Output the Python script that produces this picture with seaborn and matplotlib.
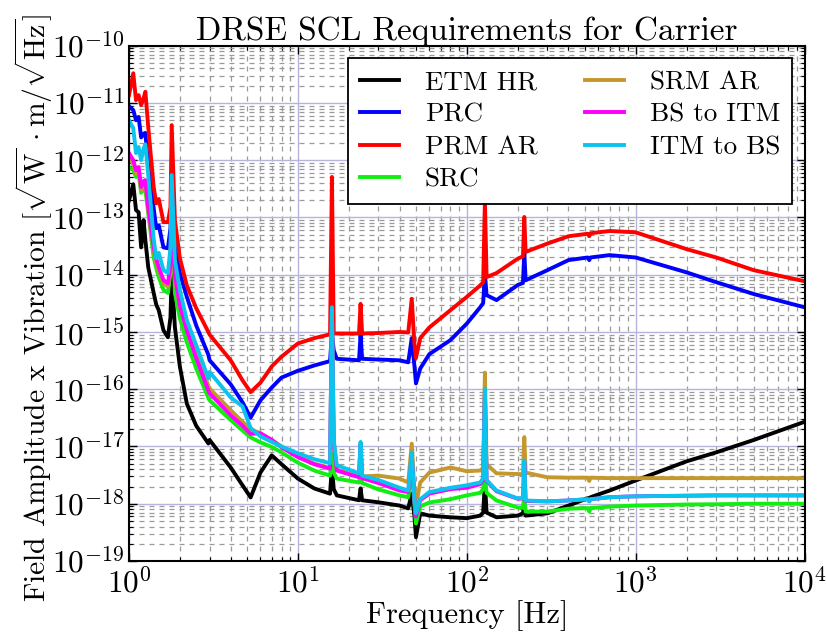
import numpy as np
import pandas as pd
import matplotlib
matplotlib.use("Agg")
import matplotlib.pyplot as plt
import matplotlib.ticker as mticker
from matplotlib.lines import Line2D
import seaborn as sns

# ---------------- data ----------------
freq = [1.0, 1.06, 1.1, 1.14, 1.18, 1.22, 1.25, 1.3, 1.4, 1.45,
        1.5, 1.6, 1.7, 1.76, 1.79, 1.87, 2.0, 2.2, 2.5, 2.95,
        3.0, 4.0, 4.7, 5.25, 6.0, 7.0, 8.0, 10, 12.5, 15.5,
        15.9, 16.3, 17, 23, 23.5, 24, 30, 40, 45, 47.2,
        49, 50, 53, 60, 80, 100, 120, 125, 128, 131,
        150, 200, 215, 219, 223, 300, 400, 520, 531, 540,
        700, 1000, 2000, 3000, 5000, 10000]

etm_hr = [2.0e-13, 3.8e-13, 1.35e-13, 1.23e-13, 3.0e-14, 9e-14, 4e-14, 1.35e-14, 4.8e-15, 3.0e-15,
          2.4e-15, 1.07e-15, 8.1e-16, 1.8e-15, 1.07e-14, 1.2e-15, 2.5e-16, 5.6e-17, 2.3e-17, 1.13e-17,
          1.3e-17, 4.3e-18, 2.1e-18, 1.29e-18, 3.5e-18, 7.0e-18, 4.9e-18, 2.75e-18, 1.85e-18, 1.5e-18,
          4.4e-18, 1.8e-18, 1.4e-18, 1.15e-18, 1.85e-18, 1.15e-18, 1.06e-18, 9.3e-19, 8.3e-19, 1.5e-18,
          6e-19, 2.6e-19, 6.8e-19, 6.2e-19, 5.8e-19, 5.6e-19, 6.2e-19, 7.0e-19, 2.35e-18, 7.0e-19,
          5.8e-19, 6.2e-19, 6.8e-19, 1.0e-18, 6.2e-19, 6.8e-19, 9.3e-19, 1.25e-18, 1.2e-18, 1.3e-18,
          1.7e-18, 2.55e-18, 5.5e-18, 7.9e-18, 1.3e-17, 2.7e-17]

prc = [8.8e-12, 7.5e-12, 5.0e-12, 5.7e-12, 2.5e-12, 2.9e-12, 3.0e-12, 7.6e-13, 1.45e-13, 6.5e-14,
       7.3e-14, 3.0e-14, 2.9e-14, 6.5e-14, 6.2e-13, 3.0e-14, 1.07e-14, 4.1e-15, 1.3e-15, 4.0e-16,
       3.2e-16, 1.22e-16, 5.9e-17, 3.2e-17, 6.4e-17, 1.07e-16, 1.6e-16, 2.1e-16, 2.6e-16, 3.1e-16,
       9.5e-16, 4.8e-16, 3.4e-16, 3.2e-16, 8.8e-16, 3.4e-16, 3.3e-16, 3.2e-16, 2.95e-16, 7.8e-16,
       2.5e-16, 1.26e-16, 2.3e-16, 4.1e-16, 7.2e-16, 1.4e-15, 2.7e-15, 3.2e-15, 1.05e-14, 4.4e-15,
       3.6e-15, 6.6e-15, 7.2e-15, 2.5e-14, 8.0e-15, 1.2e-14, 1.8e-14, 2.0e-14, 1.8e-14, 2.0e-14,
       2.2e-14, 2.0e-14, 1.1e-14, 7.4e-15, 4.6e-15, 2.7e-15]

prm_ar = [1.37e-11, 3.3e-11, 1.12e-11, 1.37e-11, 9.2e-12, 1.2e-11, 1.57e-11, 3.8e-12, 3.4e-13, 1.76e-13,
          2.1e-13, 8.3e-14, 8.3e-14, 1.51e-13, 4.1e-12, 8.9e-14, 1.95e-14, 6.5e-15, 2.6e-15, 1.0e-15,
          9.0e-16, 3.2e-16, 1.43e-16, 8.9e-17, 1.3e-16, 2.5e-16, 3.7e-16, 6.3e-16, 7.8e-16, 9.1e-16,
          5.1e-13, 9.4e-16, 9.4e-16, 9.4e-16, 3.1e-15, 9.4e-16, 9.6e-16, 1.0e-15, 9.8e-16, 3.8e-15,
          6e-16, 3.5e-16, 7.8e-16, 1.2e-15, 2.4e-15, 4.1e-15, 6.5e-15, 7.4e-15, 2e-13, 9.1e-15,
          1.07e-14, 1.9e-14, 2.1e-14, 1.02e-13, 2.5e-14, 3.5e-14, 4.7e-14, 5.2e-14, 4.7e-14, 5.3e-14,
          5.8e-14, 5.5e-14, 2.8e-14, 2.0e-14, 1.2e-14, 7.7e-15]

src = [7.6e-13, 6.7e-13, 5.1e-13, 6.0e-13, 2.7e-13, 3.2e-13, 3.0e-13, 1.2e-13, 2.0e-14, 1.3e-14,
       9.1e-15, 5.4e-15, 4.8e-15, 1.07e-14, 2e-13, 4.8e-15, 1.74e-15, 6.6e-16, 2.3e-16, 7.0e-17,
       6.4e-17, 2.9e-17, 1.9e-17, 1.44e-17, 1.18e-17, 9.8e-18, 7.9e-18, 5.2e-18, 3.8e-18, 3.1e-18,
       7.6e-18, 3.5e-18, 2.75e-18, 2.35e-18, 3.1e-18, 2.3e-18, 1.78e-18, 1.4e-18, 1.3e-18, 3.8e-18,
       1.0e-18, 4.5e-19, 9.0e-19, 1.05e-18, 1.2e-18, 1.4e-18, 1.55e-18, 1.8e-18, 2.9e-18, 1.55e-18,
       1.14e-18, 8.6e-19, 8.5e-19, 1.4e-18, 7.3e-19, 7.3e-19, 8.2e-19, 8.4e-19, 7.3e-19, 8.4e-19,
       8.9e-19, 9.3e-19, 9.7e-19, 9.8e-19, 1.0e-18, 1.0e-18]

srm_ar = [1.1e-12, 8.5e-13, 5.8e-13, 6.6e-13, 3.0e-13, 3.8e-13, 3.7e-13, 1.35e-13, 2.6e-14, 1.6e-14,
          1.2e-14, 7.0e-15, 6.2e-15, 1.3e-14, 2.5e-13, 8e-15, 3.0e-15, 1.2e-15, 4.4e-16, 1.15e-16,
          1.03e-16, 4.3e-17, 2.7e-17, 2.0e-17, 1.7e-17, 1.3e-17, 1.0e-17, 6.7e-18, 5.0e-18, 4.2e-18,
          2.5e-15, 1.2e-17, 3.9e-18, 3.0e-18, 1.1e-17, 3.0e-18, 3.1e-18, 2.75e-18, 2.35e-18, 1.12e-17,
          1.6e-18, 9.0e-19, 2.35e-18, 3.5e-18, 4.3e-18, 3.7e-18, 3.8e-18, 4.2e-18, 1.95e-16, 4.9e-18,
          3.4e-18, 3.3e-18, 3.3e-18, 1.46e-17, 3.5e-18, 2.9e-18, 2.85e-18, 2.85e-18, 2.5e-18, 2.85e-18,
          2.8e-18, 2.8e-18, 2.8e-18, 2.8e-18, 2.8e-18, 2.8e-18]

bs_to_itm = [1.33e-12, 1.0e-12, 6.7e-13, 7.6e-13, 3.4e-13, 4.3e-13, 4.5e-13, 1.5e-13, 3.0e-14, 1.9e-14,
             1.35e-14, 8.0e-15, 7.1e-15, 1.47e-14, 3e-13, 9.8e-15, 2.9e-15, 1.07e-15, 3.5e-16, 9.5e-17,
             8.5e-17, 3.5e-17, 2.3e-17, 1.66e-17, 1.7e-17, 1.3e-17, 9.7e-18, 6.5e-18, 4.9e-18, 4.1e-18,
             2.5e-15, 1.2e-17, 3.8e-18, 2.9e-18, 1.1e-17, 2.8e-18, 2.3e-18, 1.7e-18, 1.6e-18, 7e-18,
             1.1e-18, 6.0e-19, 1.15e-18, 1.5e-18, 1.8e-18, 1.9e-18, 2.2e-18, 2.6e-18, 9e-17, 2.5e-18,
             1.65e-18, 1.22e-18, 1.24e-18, 5.3e-18, 1.12e-18, 1.1e-18, 1.14e-18, 1.2e-18, 1.1e-18, 1.2e-18,
             1.3e-18, 1.35e-18, 1.38e-18, 1.4e-18, 1.4e-18, 1.4e-18]

itm_to_bs = [5.0e-12, 3.6e-12, 1.33e-12, 1.7e-12, 1.0e-12, 1.6e-12, 1.9e-12, 5.5e-13, 4.2e-14, 1.95e-14,
             2.4e-14, 1.2e-14, 1.07e-14, 3.0e-14, 5.5e-13, 1.8e-14, 5.4e-15, 1.6e-15, 5.9e-16, 1.55e-16,
             2.0e-16, 7.2e-17, 5.0e-17, 2.1e-17, 1.5e-17, 1.2e-17, 1.0e-17, 7.6e-18, 6.0e-18, 5.1e-18,
             2.7e-15, 1.3e-17, 4.7e-18, 3.4e-18, 1.2e-17, 3.1e-18, 2.6e-18, 1.9e-18, 1.7e-18, 7.9e-18,
             1.15e-18, 6.8e-19, 1.2e-18, 1.6e-18, 1.9e-18, 2.1e-18, 2.35e-18, 2.8e-18, 1.02e-16, 2.6e-18,
             1.7e-18, 1.24e-18, 1.26e-18, 5.7e-18, 1.14e-18, 1.1e-18, 1.14e-18, 1.2e-18, 1.1e-18, 1.2e-18,
             1.3e-18, 1.35e-18, 1.38e-18, 1.4e-18, 1.4e-18, 1.4e-18]

series_names = ["ETM HR", "PRC", "PRM AR", "SRC", "SRM AR", "BS to ITM", "ITM to BS"]
series_values = [etm_hr, prc, prm_ar, src, srm_ar, bs_to_itm, itm_to_bs]
series_colors = ["#000000", "#0000ff", "#ff0000", "#11ee11", "#c4982c", "#ff00ff", "#0cc3ee"]

y_ticks = [1e-19, 1e-18, 1e-17, 1e-16, 1e-15, 1e-14, 1e-13, 1e-12, 1e-11, 1e-10]
x_ticks = [1, 10, 100, 1000, 10000]

# ---------------- style ----------------
plt.rcParams["font.family"] = "serif"
plt.rcParams["font.serif"] = ["cmr10", "DejaVu Serif"]
plt.rcParams["mathtext.fontset"] = "cm"
plt.rcParams["axes.unicode_minus"] = False
plt.rcParams["axes.formatter.use_mathtext"] = True

df = pd.DataFrame({
    "freq": np.tile(freq, len(series_names)),
    "val": np.concatenate(series_values),
    "series": np.repeat(series_names, len(freq)),
})

fig = plt.figure(figsize=(8.26, 6.4), dpi=100)
ax = fig.add_axes([129 / 826, 1 - 561 / 640, (804.6 - 129) / 826, (561 - 45.7) / 640])

sns.lineplot(data=df, x="freq", y="val", hue="series", hue_order=series_names,
             palette=dict(zip(series_names, series_colors)), linewidth=2.8,
             estimator=None, sort=False, legend=False, ax=ax)

ax.set_xscale("log")
ax.set_yscale("log")
ax.set_xlim(1, 1e4)
ax.set_ylim(1e-19, 1e-10)

ax.xaxis.set_major_locator(mticker.FixedLocator(x_ticks))
ax.yaxis.set_major_locator(mticker.FixedLocator(y_ticks))
ax.xaxis.set_minor_locator(mticker.LogLocator(base=10, subs=np.arange(2, 10), numticks=100))
ax.yaxis.set_minor_locator(mticker.LogLocator(base=10, subs=np.arange(2, 10), numticks=100))

def fmt(v, pos):
    e = int(round(np.log10(v)))
    return r"$10^{%d}$" % e

ax.xaxis.set_major_formatter(mticker.FuncFormatter(fmt))
ax.yaxis.set_major_formatter(mticker.FuncFormatter(fmt))
ax.xaxis.set_minor_formatter(mticker.NullFormatter())
ax.yaxis.set_minor_formatter(mticker.NullFormatter())

ax.set_axisbelow(True)
ax.grid(which="major", color="#b4b4dc", linestyle="-", linewidth=1.0)
ax.grid(which="minor", color="#9a9a9a", linestyle=(0, (4, 4)), linewidth=0.9)

ax.tick_params(which="both", direction="in", top=True, right=True, colors="black")
ax.tick_params(which="major", length=6, width=1.0, labelsize=22.5)
ax.tick_params(axis="x", which="major", pad=5)
ax.tick_params(axis="y", which="major", pad=3)
ax.tick_params(which="minor", length=3, width=0.8)
for s in ax.spines.values():
    s.set_linewidth(1.5)
    s.set_color("black")

ax.set_title("DRSE SCL Requirements for Carrier", fontsize=24, pad=4)
ax.set_xlabel("Frequency [Hz]", fontsize=22)
ax.xaxis.set_label_coords(0.5, -0.075)
ax.set_ylabel(r"Field Amplitude x Vibration $[\sqrt{\mathrm{W}}\,\cdot\mathrm{m}/\sqrt{\mathrm{Hz}}]$",
              fontsize=21.3)
ax.yaxis.set_label_coords(-0.11, 0.49)

handles = [Line2D([], [], color=c, linewidth=2.8) for c in series_colors]
leg = ax.legend(handles, series_names, ncol=2, loc="upper right", fontsize=19.5,
                frameon=True, fancybox=False, framealpha=1.0, edgecolor="black",
                handlelength=1.45, handletextpad=0.95, columnspacing=1.75,
                labelspacing=0.32, borderaxespad=0.45, borderpad=0.45)
leg.get_frame().set_linewidth(1.3)

fig.savefig("out.png", dpi=100)
